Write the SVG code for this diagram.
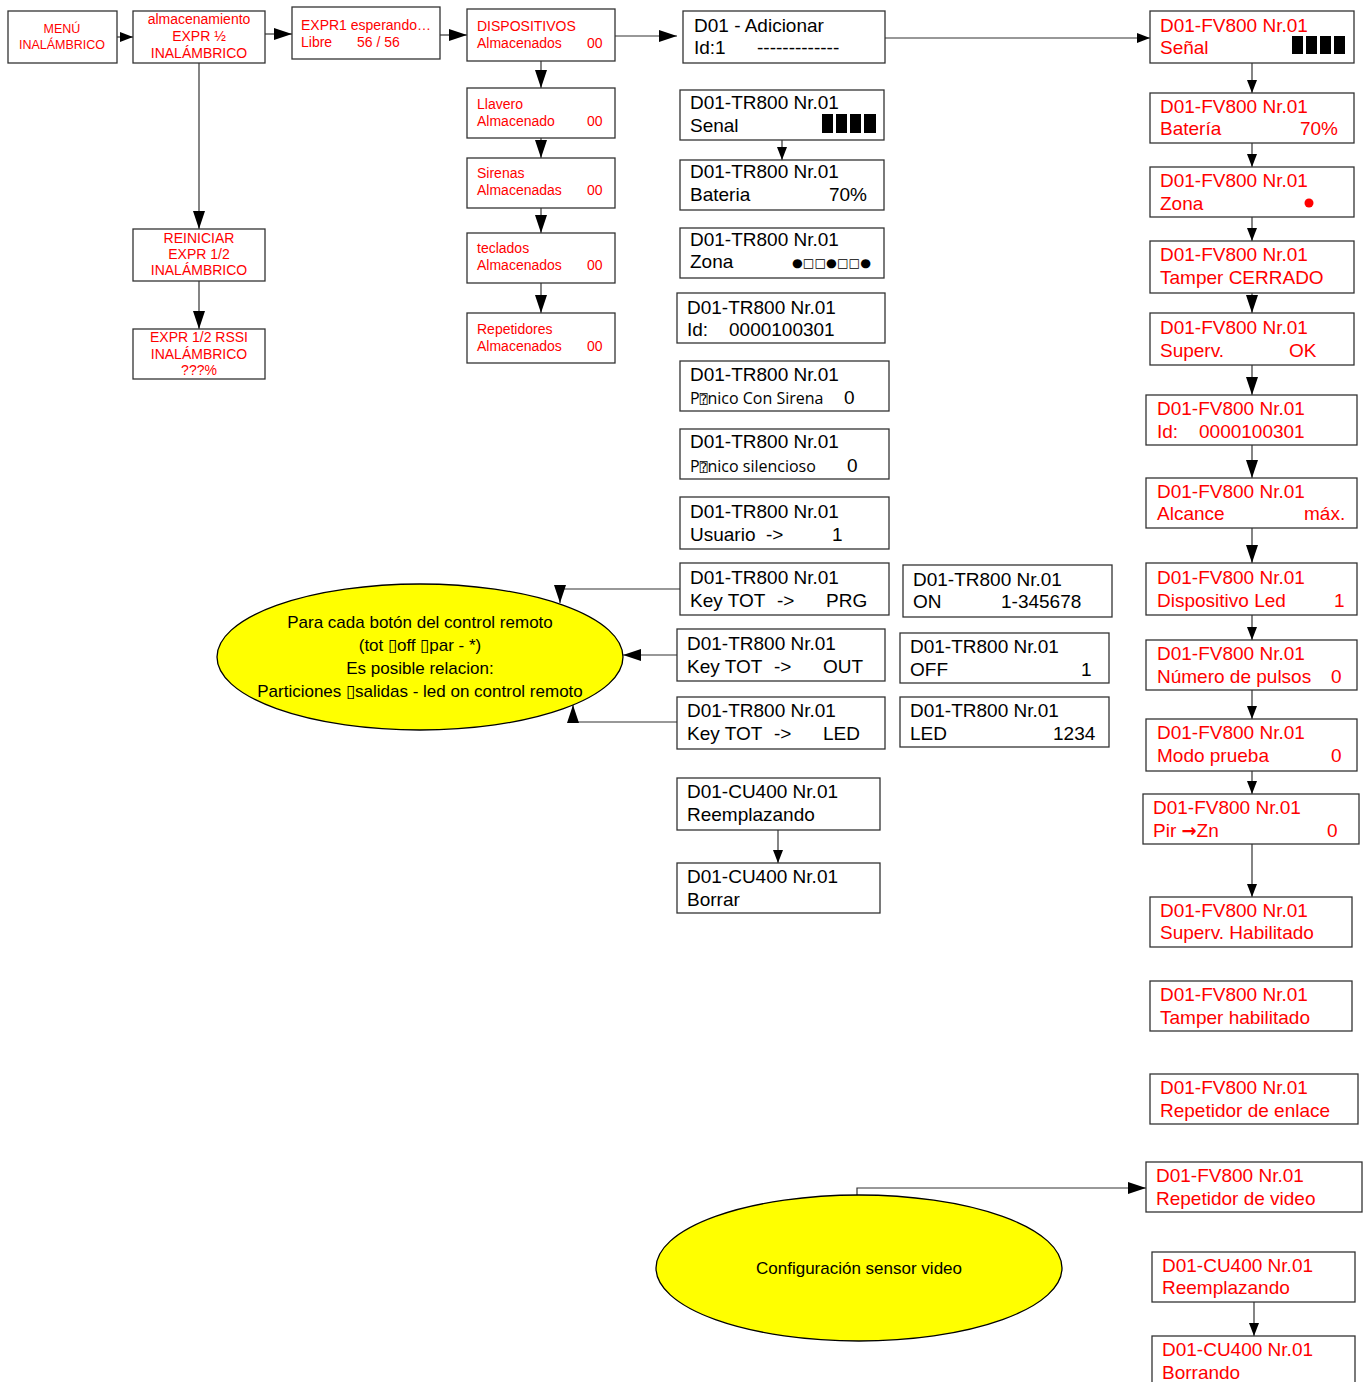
<svg xmlns="http://www.w3.org/2000/svg" width="1370" height="1382" viewBox="0 0 1370 1382">
<defs>
<marker id="ab" markerWidth="18" markerHeight="12" refX="18" refY="6" orient="auto" markerUnits="userSpaceOnUse"><path d="M0,0 L18,6 L0,12 z" fill="#000"/></marker>
<marker id="as" markerWidth="13" markerHeight="10" refX="13" refY="5" orient="auto" markerUnits="userSpaceOnUse"><path d="M0,0 L13,5 L0,10 z" fill="#000"/></marker>
<style>
.b{fill:#fff;stroke:#333;stroke-width:1.3}
.e{fill:#ffff00;stroke:#000;stroke-width:1.3}
.c{fill:none;stroke:#333;stroke-width:1.2}
.r{fill:#ff0000;font-family:"Liberation Sans",Arial,sans-serif;font-size:14px}
.rs{fill:#ff0000;font-family:"Liberation Sans",Arial,sans-serif;font-size:12.5px}
.R{fill:#ff0000;font-family:"Liberation Sans",Arial,sans-serif;font-size:19px}
.k{fill:#000;font-family:"Liberation Sans",Arial,sans-serif;font-size:19px}
.ko{fill:#000;font-family:"Open Sans","Noto Sans",sans-serif;font-size:16px}
.q{font-family:"DejaVu Sans Mono","DejaVu Sans",sans-serif;font-size:13px}
.t{fill:#000;font-family:"Liberation Sans",Arial,sans-serif;font-size:17px}
.m{text-anchor:middle}
</style>
</defs>

<g id="connectors">
<path class="c" d="M117,37 H133" marker-end="url(#as)"/>
<path class="c" d="M265,34 H292" marker-end="url(#ab)"/>
<path class="c" d="M440,35 H467" marker-end="url(#ab)"/>
<path class="c" d="M615,36 H677" marker-end="url(#ab)"/>
<path class="c" d="M885,38 H1150" marker-end="url(#as)"/>
<path class="c" d="M199,63 V229" marker-end="url(#ab)"/>
<path class="c" d="M199,281 V329" marker-end="url(#ab)"/>
<path class="c" d="M541,61 V88" marker-end="url(#ab)"/>
<path class="c" d="M541,138 V158" marker-end="url(#ab)"/>
<path class="c" d="M541,208 V233" marker-end="url(#ab)"/>
<path class="c" d="M541,283 V313" marker-end="url(#ab)"/>
<path class="c" d="M782,140 V160" marker-end="url(#as)"/>
<path class="c" d="M778,830 V863" marker-end="url(#as)"/>
<path class="c" d="M680,589 H560 V603" marker-end="url(#ab)"/>
<path class="c" d="M677,655 H623" marker-end="url(#ab)"/>
<path class="c" d="M677,722 H573 V705" marker-end="url(#ab)"/>
<path class="c" d="M1252,63 V93" marker-end="url(#as)"/>
<path class="c" d="M1252,143 V167" marker-end="url(#as)"/>
<path class="c" d="M1252,217 V241" marker-end="url(#as)"/>
<path class="c" d="M1252,293 V313" marker-end="url(#ab)"/>
<path class="c" d="M1252,365 V395" marker-end="url(#ab)"/>
<path class="c" d="M1252,445 V478" marker-end="url(#ab)"/>
<path class="c" d="M1252,528 V563" marker-end="url(#ab)"/>
<path class="c" d="M1252,615 V640" marker-end="url(#as)"/>
<path class="c" d="M1252,690 V719" marker-end="url(#as)"/>
<path class="c" d="M1252,771 V794" marker-end="url(#as)"/>
<path class="c" d="M1252,844 V897" marker-end="url(#as)"/>
<path class="c" d="M857,1195 V1188 H1146" marker-end="url(#ab)"/>
<path class="c" d="M1254,1302 V1336" marker-end="url(#as)"/>
</g>

<g id="n-menu"><rect class="b" x="8" y="11" width="109" height="52"/>
<text class="rs m" x="62" y="33">MENÚ</text><text class="rs m" x="62" y="49">INALÁMBRICO</text></g>
<g id="n-alm"><rect class="b" x="133" y="11" width="132" height="52"/>
<text class="r m" x="199" y="24">almacenamiento</text><text class="r m" x="199" y="41">EXPR ½</text><text class="r m" x="199" y="58">INALÁMBRICO</text></g>
<g id="n-expr1"><rect class="b" x="292" y="7" width="148" height="52"/>
<text class="r" x="301" y="30">EXPR1 esperando…</text><text class="r" x="301" y="47">Libre</text><text class="r" x="357" y="47">56 / 56</text></g>
<g id="n-disp"><rect class="b" x="467" y="9" width="148" height="52"/>
<text class="r" x="477" y="31">DISPOSITIVOS</text><text class="r" x="477" y="48">Almacenados</text><text class="r" x="587" y="48">00</text></g>
<g id="n-llavero"><rect class="b" x="467" y="88" width="148" height="50"/>
<text class="r" x="477" y="109">Llavero</text><text class="r" x="477" y="126">Almacenado</text><text class="r" x="587" y="126">00</text></g>
<g id="n-sirenas"><rect class="b" x="467" y="158" width="148" height="50"/>
<text class="r" x="477" y="178">Sirenas</text><text class="r" x="477" y="195">Almacenadas</text><text class="r" x="587" y="195">00</text></g>
<g id="n-teclados"><rect class="b" x="467" y="233" width="148" height="50"/>
<text class="r" x="477" y="253">teclados</text><text class="r" x="477" y="270">Almacenados</text><text class="r" x="587" y="270">00</text></g>
<g id="n-repetidores"><rect class="b" x="467" y="313" width="148" height="50"/>
<text class="r" x="477" y="334">Repetidores</text><text class="r" x="477" y="351">Almacenados</text><text class="r" x="587" y="351">00</text></g>
<g id="n-reiniciar"><rect class="b" x="133" y="229" width="132" height="52"/>
<text class="r m" x="199" y="243">REINICIAR</text><text class="r m" x="199" y="259">EXPR 1/2</text><text class="r m" x="199" y="275">INALÁMBRICO</text></g>
<g id="n-rssi"><rect class="b" x="133" y="329" width="132" height="50"/>
<text class="r m" x="199" y="342">EXPR 1/2 RSSI</text><text class="r m" x="199" y="359">INALÁMBRICO</text><text class="r m" x="199" y="375">???%</text></g>

<g id="n-adicionar"><rect class="b" x="683" y="11" width="202" height="52"/>
<text class="k" x="694" y="32">D01 - Adicionar</text><text class="k" x="694" y="54">Id:1</text><text class="k" x="757" y="54">-------------</text></g>
<g id="n-tr-senal"><rect class="b" x="680" y="90" width="204" height="50"/>
<text class="k" x="690" y="109">D01-TR800 Nr.01</text><text class="k" x="690" y="132">Senal</text>
<rect x="822" y="114" width="11" height="19" fill="#000"/><rect x="836" y="114" width="11" height="19" fill="#000"/><rect x="850" y="114" width="11" height="19" fill="#000"/><rect x="864" y="114" width="12" height="19" fill="#000"/></g>
<g id="n-tr-bateria"><rect class="b" x="680" y="160" width="204" height="50"/>
<text class="k" x="690" y="178">D01-TR800 Nr.01</text><text class="k" x="690" y="201">Bateria</text><text class="k" x="867" y="201" text-anchor="end">70%</text></g>
<g id="n-tr-zona"><rect class="b" x="680" y="228" width="204" height="50"/>
<text class="k" x="690" y="246">D01-TR800 Nr.01</text><text class="k" x="690" y="268">Zona</text>
<text x="792" y="267" font-family="DejaVu Sans,sans-serif" font-size="12" textLength="79" lengthAdjust="spacingAndGlyphs">●□□●□□●</text></g>
<g id="n-tr-id"><rect class="b" x="677" y="293" width="208" height="50"/>
<text class="k" x="687" y="314">D01-TR800 Nr.01</text><text class="k" x="687" y="336">Id:</text><text class="k" x="729" y="336">0000100301</text></g>
<g id="n-tr-panico1"><rect class="b" x="680" y="361" width="209" height="50"/>
<text class="k" x="690" y="381">D01-TR800 Nr.01</text><text class="ko" x="690" y="404">P<tspan class="q">⍰</tspan>nico Con Sirena</text><text class="k" x="844" y="404">0</text></g>
<g id="n-tr-panico2"><rect class="b" x="680" y="429" width="209" height="50"/>
<text class="k" x="690" y="448">D01-TR800 Nr.01</text><text class="ko" x="690" y="472">P<tspan class="q">⍰</tspan>nico silencioso</text><text class="k" x="847" y="472">0</text></g>
<g id="n-tr-usuario"><rect class="b" x="680" y="497" width="209" height="52"/>
<text class="k" x="690" y="518">D01-TR800 Nr.01</text><text class="k" x="690" y="541">Usuario</text><text class="k" x="766" y="541">-&gt;</text><text class="k" x="832" y="541">1</text></g>
<g id="n-tr-prg"><rect class="b" x="680" y="563" width="209" height="52"/>
<text class="k" x="690" y="584">D01-TR800 Nr.01</text><text class="k" x="690" y="607">Key TOT</text><text class="k" x="777" y="607">-&gt;</text><text class="k" x="826" y="607">PRG</text></g>
<g id="n-tr-out"><rect class="b" x="677" y="629" width="208" height="52"/>
<text class="k" x="687" y="650">D01-TR800 Nr.01</text><text class="k" x="687" y="673">Key TOT</text><text class="k" x="774" y="673">-&gt;</text><text class="k" x="823" y="673">OUT</text></g>
<g id="n-tr-led"><rect class="b" x="677" y="697" width="208" height="52"/>
<text class="k" x="687" y="717">D01-TR800 Nr.01</text><text class="k" x="687" y="740">Key TOT</text><text class="k" x="774" y="740">-&gt;</text><text class="k" x="823" y="740">LED</text></g>
<g id="n-tr-on"><rect class="b" x="903" y="565" width="209" height="52"/>
<text class="k" x="913" y="586">D01-TR800 Nr.01</text><text class="k" x="913" y="608">ON</text><text class="k" x="1001" y="608">1-345678</text></g>
<g id="n-tr-off"><rect class="b" x="900" y="633" width="209" height="50"/>
<text class="k" x="910" y="653">D01-TR800 Nr.01</text><text class="k" x="910" y="676">OFF</text><text class="k" x="1081" y="676">1</text></g>
<g id="n-tr-led2"><rect class="b" x="900" y="697" width="209" height="50"/>
<text class="k" x="910" y="717">D01-TR800 Nr.01</text><text class="k" x="910" y="740">LED</text><text class="k" x="1053" y="740">1234</text></g>
<g id="n-cu-reemplazando"><rect class="b" x="677" y="778" width="203" height="52"/>
<text class="k" x="687" y="798">D01-CU400 Nr.01</text><text class="k" x="687" y="821">Reemplazando</text></g>
<g id="n-cu-borrar"><rect class="b" x="677" y="863" width="203" height="50"/>
<text class="k" x="687" y="883">D01-CU400 Nr.01</text><text class="k" x="687" y="906">Borrar</text></g>

<g id="n-ellipse-control"><ellipse class="e" cx="420" cy="657" rx="203" ry="73"/>
<text class="t m" x="420" y="628">Para cada botón del control remoto</text>
<text class="t m" x="420" y="651">(tot ▯off ▯par - *)</text>
<text class="t m" x="420" y="674">Es posible relacion:</text>
<text class="t m" x="420" y="697">Particiones ▯salidas - led on control remoto</text></g>

<g id="n-ellipse-video"><ellipse class="e" cx="859" cy="1268" rx="203" ry="73"/>
<text class="t m" x="859" y="1274">Configuración sensor video</text></g>

<g id="n-fv-senal"><rect class="b" x="1150" y="11" width="204" height="52"/>
<text class="R" x="1160" y="32">D01-FV800 Nr.01</text><text class="R" x="1160" y="54">Señal</text>
<rect x="1292" y="36" width="11" height="18" fill="#000"/><rect x="1306" y="36" width="11" height="18" fill="#000"/><rect x="1320" y="36" width="11" height="18" fill="#000"/><rect x="1334" y="36" width="11" height="18" fill="#000"/></g>
<g id="n-fv-bateria"><rect class="b" x="1150" y="93" width="204" height="50"/>
<text class="R" x="1160" y="113">D01-FV800 Nr.01</text><text class="R" x="1160" y="135">Batería</text><text class="R" x="1338" y="135" text-anchor="end">70%</text></g>
<g id="n-fv-zona"><rect class="b" x="1150" y="167" width="204" height="50"/>
<text class="R" x="1160" y="187">D01-FV800 Nr.01</text><text class="R" x="1160" y="210">Zona</text><circle cx="1309" cy="203" r="4.5" fill="#ff0000"/></g>
<g id="n-fv-tamper"><rect class="b" x="1150" y="241" width="204" height="52"/>
<text class="R" x="1160" y="261">D01-FV800 Nr.01</text><text class="R" x="1160" y="284">Tamper CERRADO</text></g>
<g id="n-fv-superv"><rect class="b" x="1150" y="313" width="204" height="52"/>
<text class="R" x="1160" y="334">D01-FV800 Nr.01</text><text class="R" x="1160" y="357">Superv.</text><text class="R" x="1289" y="357">OK</text></g>
<g id="n-fv-id"><rect class="b" x="1146" y="395" width="211" height="50"/>
<text class="R" x="1157" y="415">D01-FV800 Nr.01</text><text class="R" x="1157" y="438">Id:</text><text class="R" x="1199" y="438">0000100301</text></g>
<g id="n-fv-alcance"><rect class="b" x="1146" y="478" width="211" height="50"/>
<text class="R" x="1157" y="498">D01-FV800 Nr.01</text><text class="R" x="1157" y="520">Alcance</text><text class="R" x="1304" y="520">máx.</text></g>
<g id="n-fv-led"><rect class="b" x="1146" y="563" width="211" height="52"/>
<text class="R" x="1157" y="584">D01-FV800 Nr.01</text><text class="R" x="1157" y="607">Dispositivo Led</text><text class="R" x="1334" y="607">1</text></g>
<g id="n-fv-pulsos"><rect class="b" x="1146" y="640" width="211" height="50"/>
<text class="R" x="1157" y="660">D01-FV800 Nr.01</text><text class="R" x="1157" y="683">Número de pulsos</text><text class="R" x="1331" y="683">0</text></g>
<g id="n-fv-prueba"><rect class="b" x="1146" y="719" width="211" height="52"/>
<text class="R" x="1157" y="739">D01-FV800 Nr.01</text><text class="R" x="1157" y="762">Modo prueba</text><text class="R" x="1331" y="762">0</text></g>
<g id="n-fv-pir"><rect class="b" x="1143" y="794" width="216" height="50"/>
<text class="R" x="1153" y="814">D01-FV800 Nr.01</text><text class="R" x="1153" y="837">Pir <tspan font-family="DejaVu Sans,sans-serif" font-weight="bold" font-size="18">→</tspan>Zn</text><text class="R" x="1327" y="837">0</text></g>
<g id="n-fv-superv-hab"><rect class="b" x="1150" y="897" width="202" height="50"/>
<text class="R" x="1160" y="917">D01-FV800 Nr.01</text><text class="R" x="1160" y="939">Superv. Habilitado</text></g>
<g id="n-fv-tamper-hab"><rect class="b" x="1150" y="981" width="202" height="50"/>
<text class="R" x="1160" y="1001">D01-FV800 Nr.01</text><text class="R" x="1160" y="1024">Tamper habilitado</text></g>
<g id="n-fv-rep-enlace"><rect class="b" x="1150" y="1074" width="208" height="50"/>
<text class="R" x="1160" y="1094">D01-FV800 Nr.01</text><text class="R" x="1160" y="1117">Repetidor de enlace</text></g>
<g id="n-fv-rep-video"><rect class="b" x="1146" y="1162" width="216" height="50"/>
<text class="R" x="1156" y="1182">D01-FV800 Nr.01</text><text class="R" x="1156" y="1205">Repetidor de video</text></g>
<g id="n-cu-r-reemplazando"><rect class="b" x="1152" y="1252" width="203" height="50"/>
<text class="R" x="1162" y="1272">D01-CU400 Nr.01</text><text class="R" x="1162" y="1294">Reemplazando</text></g>
<g id="n-cu-r-borrando"><rect class="b" x="1152" y="1336" width="203" height="52"/>
<text class="R" x="1162" y="1356">D01-CU400 Nr.01</text><text class="R" x="1162" y="1379">Borrando</text></g>
</svg>
